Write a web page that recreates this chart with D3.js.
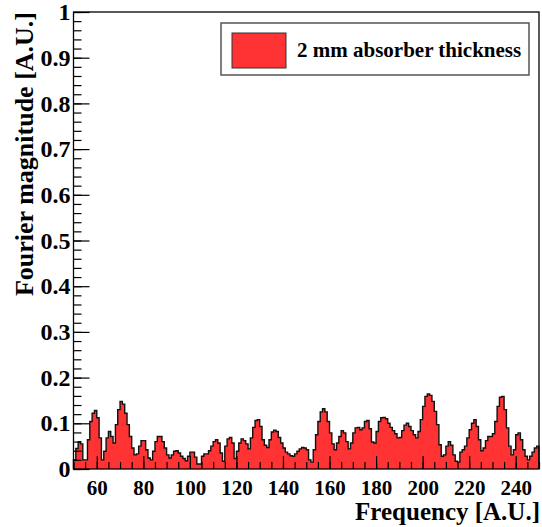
<!DOCTYPE html>
<html>
<head>
<meta charset="utf-8">
<script src="https://cdn.jsdelivr.net/npm/d3@7"></script>
<style>
  body { margin: 0; background: #fff; }
  svg { display: block; }
</style>
</head>
<body>
<svg id="chart" width="542" height="527"></svg>
<script>
// Histogram: first bin starts at 50, bins are 1 unit wide
const freqStart = 50;
const binWidth = 1;
const magnitude = [
  0.020, 0.045, 0.060, 0.055, 0.020, 0.020, 0.064, 0.104, 0.122, 0.128, // 50
  0.112, 0.068, 0.020, 0.039, 0.068, 0.082, 0.071, 0.057, 0.097, 0.130, // 60
  0.148, 0.142, 0.122, 0.097, 0.071, 0.046, 0.031, 0.033, 0.050, 0.062, // 70
  0.062, 0.042, 0.024, 0.020, 0.039, 0.060, 0.071, 0.071, 0.060, 0.046, // 80
  0.031, 0.024, 0.031, 0.039, 0.040, 0.035, 0.028, 0.023, 0.018, 0.028, // 90
  0.037, 0.037, 0.026, 0.011, 0.011, 0.028, 0.033, 0.033, 0.040, 0.050, // 100
  0.060, 0.064, 0.057, 0.035, 0.017, 0.050, 0.066, 0.069, 0.057, 0.023, // 110
  0.039, 0.057, 0.066, 0.062, 0.055, 0.044, 0.068, 0.091, 0.106, 0.108, // 120
  0.093, 0.064, 0.052, 0.047, 0.064, 0.081, 0.085, 0.082, 0.069, 0.057, // 130
  0.046, 0.037, 0.033, 0.029, 0.028, 0.033, 0.039, 0.044, 0.047, 0.046, // 140
  0.042, 0.020, 0.015, 0.042, 0.075, 0.104, 0.125, 0.132, 0.125, 0.104, // 150
  0.079, 0.055, 0.042, 0.057, 0.071, 0.084, 0.079, 0.060, 0.044, 0.057, // 160
  0.079, 0.090, 0.091, 0.086, 0.090, 0.104, 0.106, 0.088, 0.059, 0.057, // 170
  0.082, 0.104, 0.112, 0.113, 0.110, 0.100, 0.091, 0.084, 0.077, 0.068, // 180
  0.069, 0.084, 0.096, 0.100, 0.093, 0.084, 0.075, 0.068, 0.082, 0.108, // 190
  0.137, 0.159, 0.164, 0.161, 0.148, 0.126, 0.097, 0.053, 0.028, 0.031, // 200
  0.050, 0.060, 0.052, 0.031, 0.017, 0.015, 0.037, 0.042, 0.050, 0.068, // 210
  0.086, 0.100, 0.108, 0.093, 0.064, 0.040, 0.046, 0.062, 0.071, 0.071, // 220
  0.077, 0.104, 0.137, 0.157, 0.159, 0.130, 0.090, 0.050, 0.031, 0.042, // 230
  0.075, 0.079, 0.064, 0.042, 0.028, 0.020, 0.028, 0.037, 0.046, 0.050  // 240
];
const xDomain = [50, 250];
const yDomain = [0, 1];
const xMajorTicks = [60, 80, 100, 120, 140, 160, 180, 200, 220, 240];
const yMajorTicks = [0, 0.1, 0.2, 0.3, 0.4, 0.5, 0.6, 0.7, 0.8, 0.9, 1];
const legendLabel = '2 mm absorber thickness';
const xTitle = 'Frequency [A.U.]';
const yTitle = 'Fourier magnitude [A.U.]';

const svg = d3.select('#chart'),
    margin = {top: 12, right: 3, bottom: 58, left: 73.5},
    width = +svg.attr('width') - margin.left - margin.right,
    height = +svg.attr('height') - margin.top - margin.bottom;

const font = "'Liberation Serif', 'Times New Roman', serif";

const xScale = d3.scaleLinear().domain(xDomain).range([0, width]);
const yScale = d3.scaleLinear().domain(yDomain).range([height, 0]);

const g = svg.append('g')
    .attr('transform', 'translate(' + margin.left + ',' + margin.top + ')');

// Step points: one per bin edge, last value repeated at the closing edge
const points = magnitude.map((v, i) => [freqStart + i * binWidth, v]);
points.push([freqStart + magnitude.length * binWidth, magnitude[magnitude.length - 1]]);

const area = d3.area()
    .curve(d3.curveStepAfter)
    .x(d => xScale(d[0]))
    .y0(yScale(0))
    .y1(d => yScale(d[1]));

g.append('path')
    .datum(points)
    .attr('d', area)
    .style('fill', '#ff3333');

const outline = [[freqStart, 0]].concat(points, [[points[points.length - 1][0], 0]]);
g.append('path')
    .datum(outline)
    .attr('d', d3.line().curve(d3.curveStepAfter).x(d => xScale(d[0])).y(d => yScale(d[1])))
    .style('fill', 'none')
    .style('stroke', '#111')
    .style('stroke-width', 1.4);

// Minor ticks (no labels)
const xMinor = d3.range(xDomain[0], xDomain[1] + 0.1, 5);
const yMinor = d3.range(0, 1.0001, 0.02);

g.append('g')
    .attr('transform', 'translate(0,' + height + ')')
    .call(d3.axisBottom(xScale).tickValues(xMinor).tickSize(-7).tickFormat(''))
    .call(a => a.select('.domain').remove());

g.append('g')
    .call(d3.axisLeft(yScale).tickValues(yMinor).tickSize(-8).tickFormat(''))
    .call(a => a.select('.domain').remove());

// Major ticks with labels
g.append('g')
    .attr('transform', 'translate(0,' + height + ')')
    .call(d3.axisBottom(xScale).tickValues(xMajorTicks).tickSize(-13).tickPadding(11))
    .call(a => a.select('.domain').remove())
    .call(a => a.selectAll('text')
        .style('font-family', font)
        .style('font-weight', 'bold')
        .style('font-size', '21px')
        .style('fill', '#000'));

g.append('g')
    .call(d3.axisLeft(yScale).tickValues(yMajorTicks).tickSize(-16).tickPadding(3)
        .tickFormat(d => String(+d.toFixed(1))))
    .call(a => a.select('.domain').remove())
    .call(a => a.selectAll('text')
        .style('font-family', font)
        .style('font-weight', 'bold')
        .style('font-size', '24px')
        .style('fill', '#000'));

g.selectAll('.tick line').style('stroke', '#000').style('stroke-width', 1.2);

// Frame
g.append('rect')
    .attr('width', width)
    .attr('height', height)
    .style('fill', 'none')
    .style('stroke', '#000')
    .style('stroke-width', 1.3);

// Axis titles
svg.append('text')
    .attr('x', margin.left + width + 1)
    .attr('y', 520)
    .attr('text-anchor', 'end')
    .style('font-family', font)
    .style('font-weight', 'bold')
    .style('font-size', '25px')
    .text(xTitle);

svg.append('text')
    .attr('text-anchor', 'end')
    .attr('transform', 'translate(33,' + margin.top + ')rotate(-90)')
    .style('font-family', font)
    .style('font-weight', 'bold')
    .style('font-size', '26px')
    .text(yTitle);

// Legend
const legend = svg.append('g').attr('transform', 'translate(221,23)');
legend.append('rect')
    .attr('width', 308)
    .attr('height', 52)
    .style('fill', '#fff')
    .style('stroke', '#555')
    .style('stroke-width', 1.5);
legend.append('rect')
    .attr('x', 11)
    .attr('y', 10)
    .attr('width', 54)
    .attr('height', 35)
    .style('fill', '#ff3333')
    .style('stroke', '#333')
    .style('stroke-width', 1);
legend.append('text')
    .attr('x', 76)
    .attr('y', 34)
    .style('font-family', font)
    .style('font-weight', 'bold')
    .style('font-size', '21px')
    .text(legendLabel);
</script>
</body>
</html>
